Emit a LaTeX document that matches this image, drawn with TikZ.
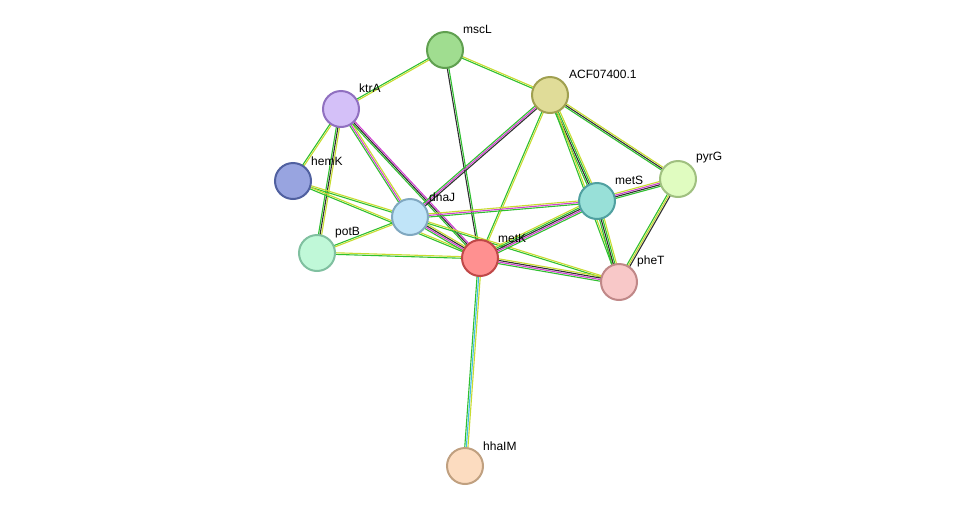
\documentclass[tikz,border=0pt]{standalone}
\usepackage{fontspec}
\setmainfont{Liberation Sans}
\usetikzlibrary{calc}
\definecolor{eg}{HTML}{30C030}
\definecolor{ey}{HTML}{C8DC30}
\definecolor{em}{HTML}{D040D0}
\definecolor{ek}{HTML}{303030}
\definecolor{ec}{HTML}{40C0E0}
\definecolor{f1}{HTML}{A0DD90}\definecolor{d1}{HTML}{60A050}
\definecolor{f2}{HTML}{E0DC98}\definecolor{d2}{HTML}{A0A050}
\definecolor{f3}{HTML}{D4C0F8}\definecolor{d3}{HTML}{9070C0}
\definecolor{f4}{HTML}{98A4E0}\definecolor{d4}{HTML}{5060A0}
\definecolor{f5}{HTML}{C0E4F8}\definecolor{d5}{HTML}{80A8C0}
\definecolor{f6}{HTML}{C0F8D8}\definecolor{d6}{HTML}{80C0A0}
\definecolor{f7}{HTML}{FF9090}\definecolor{d7}{HTML}{C04848}
\definecolor{f8}{HTML}{98E0D8}\definecolor{d8}{HTML}{50A0A0}
\definecolor{f9}{HTML}{E0FCC0}\definecolor{d9}{HTML}{A0C080}
\definecolor{f10}{HTML}{F8C8C8}\definecolor{d10}{HTML}{C08888}
\definecolor{f11}{HTML}{FCDCC0}\definecolor{d11}{HTML}{C0A080}
\tikzset{
  prot/.style={circle,minimum size=36pt,inner sep=0pt,line width=2pt,fill=f#1,draw=d#1},
  lab/.style={font=\fontsize{12}{14}\selectfont,anchor=south west,inner sep=1pt}
}
\newcommand{\myedge}[3]{%
  \foreach \c [count=\i] in {#3} {\xdef\myn{\i}}%
  \foreach \c [count=\i] in {#3} {%
    \pgfmathsetmacro{\off}{(\i-(\myn+1)/2)*1.6}%
    \draw[\c,line width=1.1pt] ($(#1)!\off pt!90:(#2)$) -- ($(#2)!\off pt!-90:(#1)$);
  }}
\begin{document}
\begin{tikzpicture}[x=1pt,y=-1pt]
\useasboundingbox (0,0) rectangle (975,512);
\coordinate (mscL) at (445,50);
\coordinate (ACF) at (550,95);
\coordinate (ktrA) at (341,109);
\coordinate (hemK) at (293,181);
\coordinate (dnaJ) at (410,217);
\coordinate (potB) at (317,253);
\coordinate (metK) at (480,258);
\coordinate (metS) at (597,201);
\coordinate (pyrG) at (678,179);
\coordinate (pheT) at (619,282);
\coordinate (hhaIM) at (465,466);
\myedge{mscL}{ktrA}{eg,ey}
\myedge{mscL}{ACF}{eg,ey}
\myedge{mscL}{metK}{ek,eg}
\myedge{ktrA}{hemK}{eg,ey}
\myedge{ktrA}{potB}{eg,ek,ey}
\myedge{ktrA}{dnaJ}{eg,em,ey}
\myedge{ktrA}{metK}{eg,ek,em}
\myedge{hemK}{dnaJ}{eg,ey}
\myedge{hemK}{metK}{eg,ey}
\myedge{ACF}{dnaJ}{eg,em,ek}
\myedge{ACF}{metK}{eg,ey}
\myedge{ACF}{metS}{eg,ek,eg,ey}
\myedge{ACF}{pyrG}{eg,ek,ey}
\myedge{ACF}{pheT}{eg,ey}
\myedge{dnaJ}{potB}{eg,ey}
\myedge{dnaJ}{metK}{eg,em,ek,ey}
\myedge{dnaJ}{metS}{eg,em,ey}
\myedge{dnaJ}{pheT}{eg,ey}
\myedge{potB}{metK}{eg,ey}
\myedge{metK}{metS}{eg,em,ek,eg,ey}
\myedge{metK}{pheT}{eg,em,ek,ey}
\myedge{metK}{hhaIM}{eg,ec,ey}
\myedge{metS}{pyrG}{eg,ek,em,ey}
\myedge{metS}{pheT}{eg,ek,eg,ey}
\myedge{pyrG}{pheT}{eg,ey,ek}
\node[prot=1] (n1) at (mscL) {};
\node[prot=2] (n2) at (ACF) {};
\node[prot=3] (n3) at (ktrA) {};
\node[prot=4] (n4) at (hemK) {};
\node[prot=5] (n5) at (dnaJ) {};
\node[prot=6] (n6) at (potB) {};
\node[prot=7] (n7) at (metK) {};
\node[prot=8] (n8) at (metS) {};
\node[prot=9] (n9) at (pyrG) {};
\node[prot=10] (n10) at (pheT) {};
\node[prot=11] (n11) at (hhaIM) {};
\node[lab] (l1) at (462,35) {mscL};
\node[lab] (l2) at (568,80) {ACF07400.1};
\node[lab] (l3) at (358,94) {ktrA};
\node[lab] (l4) at (310,167) {hemK};
\node[lab] (l5) at (428,203) {dnaJ};
\node[lab] (l6) at (334,239) {potB};
\node[lab] (l7) at (497,244) {metK};
\node[lab] (l8) at (614,186) {metS};
\node[lab] (l9) at (695,164) {pyrG};
\node[lab] (l10) at (636,268) {pheT};
\node[lab] (l11) at (482,452) {hhaIM};
\end{tikzpicture}
\end{document}
